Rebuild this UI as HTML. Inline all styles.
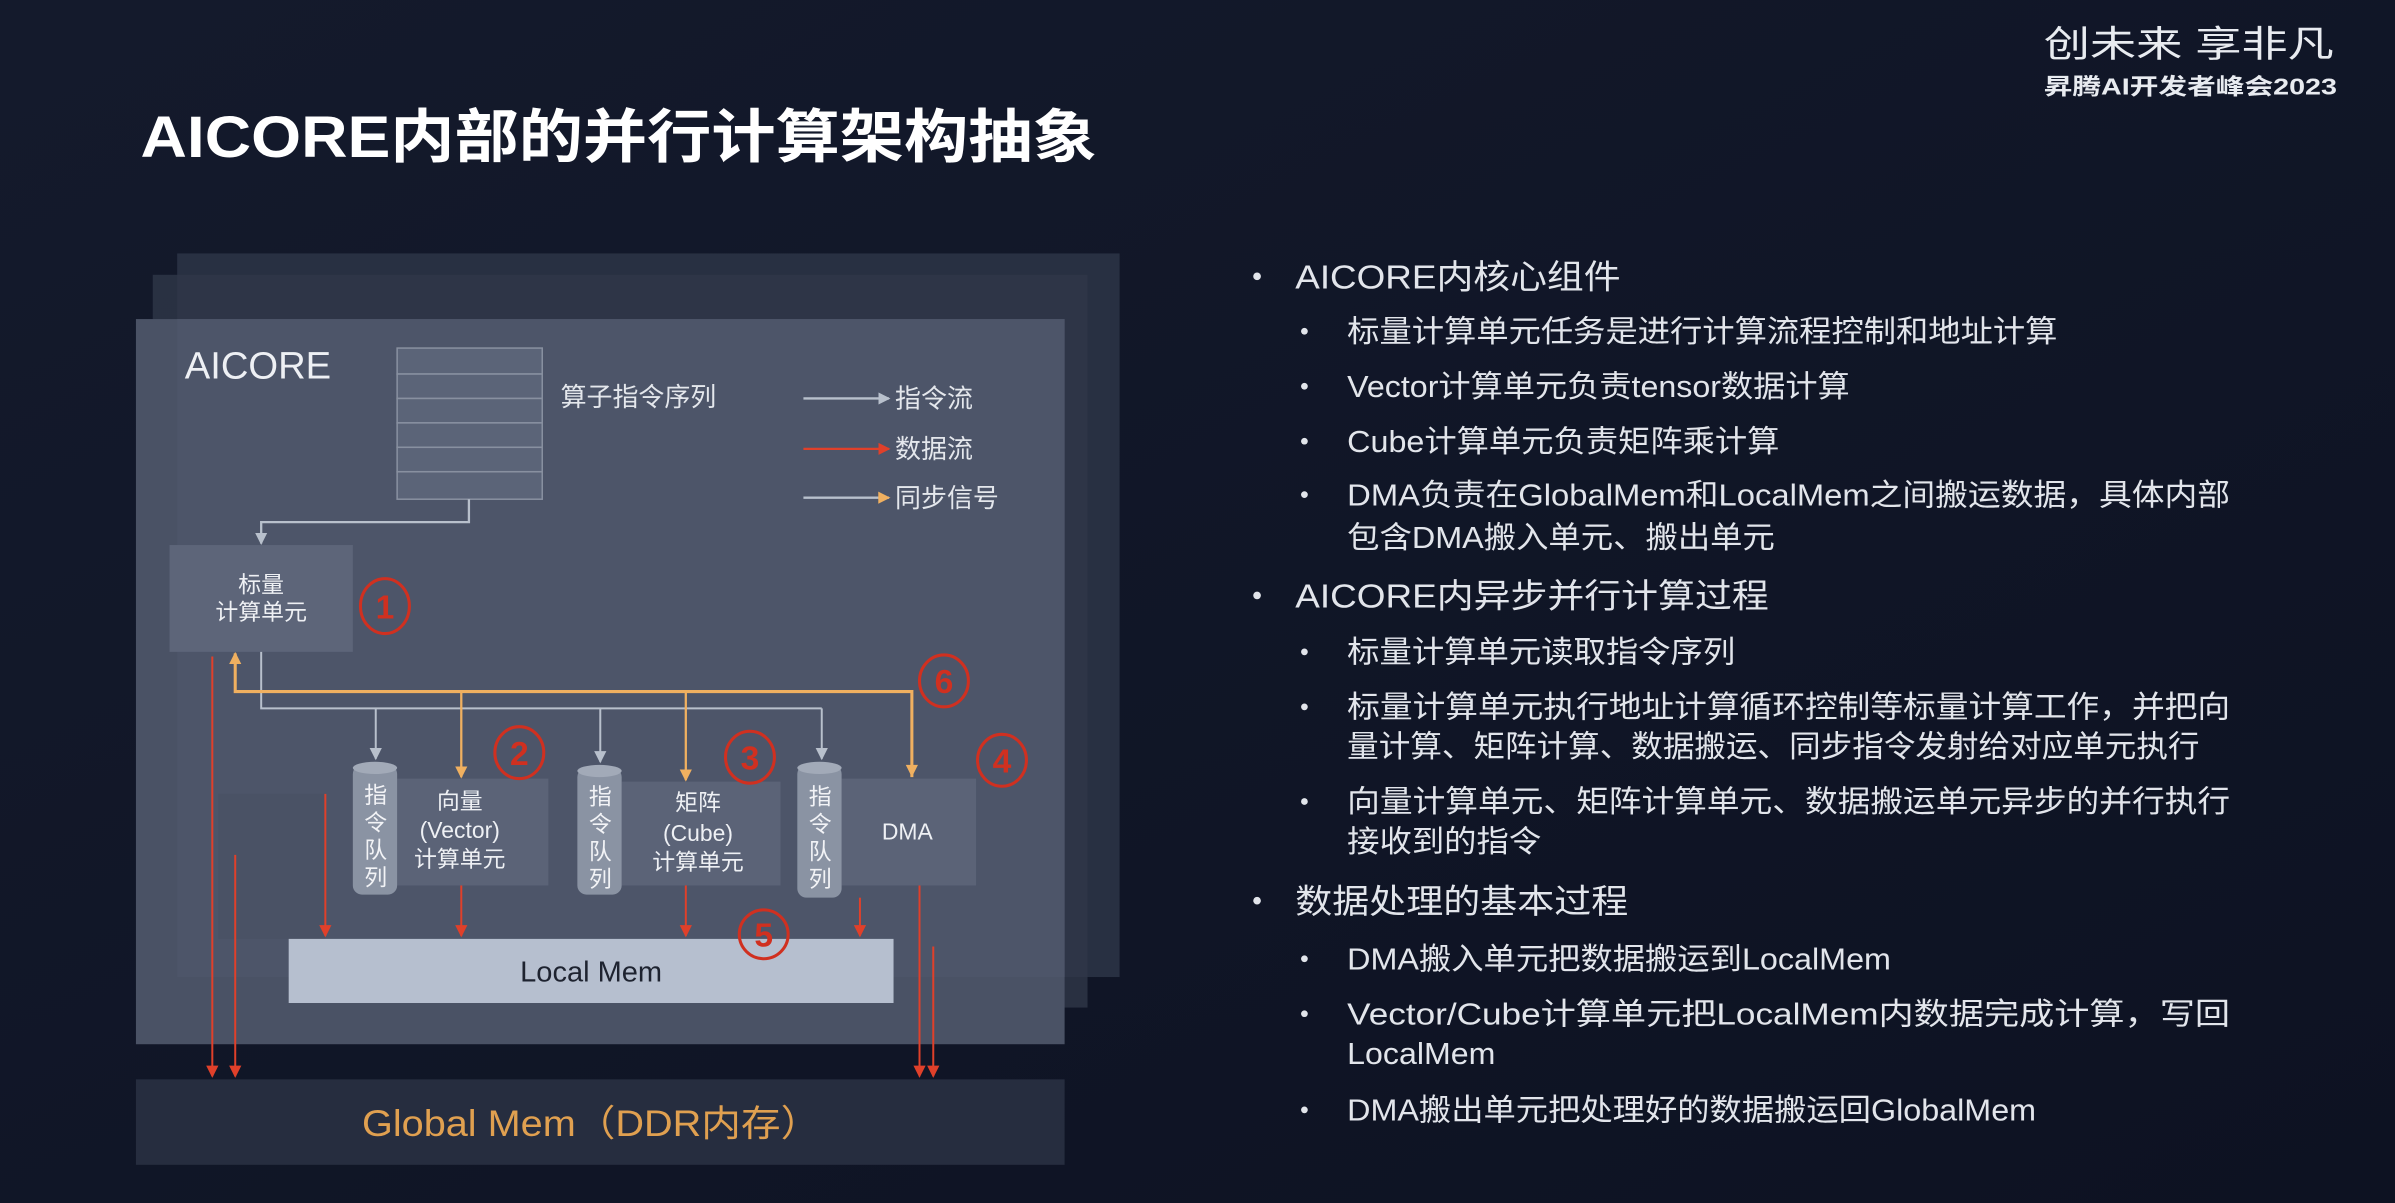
<!DOCTYPE html>
<html><head><meta charset="utf-8">
<style>
html,body{margin:0;padding:0;background:#0f1526;overflow:hidden;}
svg{display:block;}
text{font-family:"Liberation Sans","Noto Sans CJK SC",sans-serif;}
</style></head>
<body>
<svg width="2395" height="1203" viewBox="0 0 1568 788" preserveAspectRatio="none" xmlns="http://www.w3.org/2000/svg">
<defs>
<linearGradient id="bg" x1="0" y1="0" x2="1" y2="1">
<stop offset="0" stop-color="#141a2c"/><stop offset="1" stop-color="#0d1222"/>
</linearGradient>
<marker id="ag" markerWidth="8" markerHeight="8" refX="7" refY="4" orient="auto" markerUnits="userSpaceOnUse"><path d="M0,0 L8,4 L0,8 z" fill="#b8c0cc"/></marker>
<marker id="ar" markerWidth="8" markerHeight="8" refX="7" refY="4" orient="auto" markerUnits="userSpaceOnUse"><path d="M0,0 L8,4 L0,8 z" fill="#e0402a"/></marker>
<marker id="ao" markerWidth="8" markerHeight="8" refX="7" refY="4" orient="auto" markerUnits="userSpaceOnUse"><path d="M0,0 L8,4 L0,8 z" fill="#f0b060"/></marker>
</defs>
<rect width="1568" height="788" fill="url(#bg)"/>

<text x="92" y="103" font-size="38" font-weight="bold" fill="#ffffff" textLength="626" lengthAdjust="spacingAndGlyphs">AICORE内部的并行计算架构抽象</text>
<text x="1338" y="37" font-size="24" fill="#e8ebf0" textLength="190" lengthAdjust="spacingAndGlyphs">创未来 享非凡</text>
<text x="1338" y="62" font-size="15" font-weight="bold" fill="#e8ebf0" textLength="192" lengthAdjust="spacingAndGlyphs">昇腾AI开发者峰会2023</text>

<rect x="116" y="166" width="617" height="474" fill="#283042"/>
<rect x="100" y="180" width="612" height="480" fill="#2f3749" opacity="0.8"/>
<rect x="89" y="209" width="608" height="475" fill="#4a5265"/>
<rect x="116" y="209" width="581" height="431" fill="#4d5569"/>

<text x="121" y="248" font-size="25" fill="#eef0f4">AICORE</text>

<g fill="#5b6478" stroke="#8890a0" stroke-width="1">
<rect x="260" y="228" width="95" height="17"/><rect x="260" y="245" width="95" height="16"/>
<rect x="260" y="261" width="95" height="16"/><rect x="260" y="277" width="95" height="16"/>
<rect x="260" y="293" width="95" height="16"/><rect x="260" y="309" width="95" height="18"/>
</g>
<text x="367" y="266" font-size="17" fill="#e4e7ec">算子指令序列</text>

<line x1="526" y1="261" x2="582" y2="261" stroke="#b8c0cc" stroke-width="1.5" marker-end="url(#ag)"/>
<line x1="526" y1="294" x2="582" y2="294" stroke="#e0402a" stroke-width="1.5" marker-end="url(#ar)"/>
<line x1="526" y1="326" x2="582" y2="326" stroke="#b8c0cc" stroke-width="1.5"/>
<path d="M575,322 L583,326 L575,330 z" fill="#f0b060"/>
<text x="586" y="267" font-size="17" fill="#e4e7ec">指令流</text>
<text x="586" y="300" font-size="17" fill="#e4e7ec">数据流</text>
<text x="586" y="332" font-size="17" fill="#e4e7ec">同步信号</text>

<polyline points="307,327 307,342 171,342 171,356" fill="none" stroke="#b8c0cc" stroke-width="1.5" marker-end="url(#ag)"/>

<rect x="111" y="357" width="120" height="70" fill="#5d6579"/>
<text x="171" y="388" font-size="15" fill="#eef0f4" text-anchor="middle">标量</text>
<text x="171" y="406" font-size="15" fill="#eef0f4" text-anchor="middle">计算单元</text>

<rect x="143" y="520" width="70" height="95" fill="#4a5265"/>

<polyline points="171,427 171,464 538,464" fill="none" stroke="#b8c0cc" stroke-width="1.3"/>
<line x1="246" y1="464" x2="246" y2="497" stroke="#b8c0cc" stroke-width="1.3" marker-end="url(#ag)"/>
<line x1="393" y1="464" x2="393" y2="499" stroke="#b8c0cc" stroke-width="1.3" marker-end="url(#ag)"/>
<line x1="538" y1="464" x2="538" y2="497" stroke="#b8c0cc" stroke-width="1.3" marker-end="url(#ag)"/>

<polyline points="597,509 597,453 154,453 154,428" fill="none" stroke="#f0b060" stroke-width="2" marker-end="url(#ao)"/>
<line x1="302" y1="453" x2="302" y2="509" stroke="#f0b060" stroke-width="1.5" marker-end="url(#ao)"/>
<line x1="449" y1="453" x2="449" y2="511" stroke="#f0b060" stroke-width="1.5" marker-end="url(#ao)"/>
<path d="M593,501 L597,509 L601,501 z" fill="#f0b060"/>

<rect x="260" y="510" width="99" height="70" fill="#5b6377"/>
<rect x="407" y="512" width="104" height="68" fill="#5b6377"/>
<rect x="551" y="510" width="88" height="70" fill="#5b6377"/>
<text x="301" y="530" font-size="15" fill="#eef0f4" text-anchor="middle">向量</text>
<text x="301" y="549" font-size="15" fill="#eef0f4" text-anchor="middle">(Vector)</text>
<text x="301" y="568" font-size="15" fill="#eef0f4" text-anchor="middle">计算单元</text>
<text x="457" y="531" font-size="15" fill="#eef0f4" text-anchor="middle">矩阵</text>
<text x="457" y="551" font-size="15" fill="#eef0f4" text-anchor="middle">(Cube)</text>
<text x="457" y="570" font-size="15" fill="#eef0f4" text-anchor="middle">计算单元</text>
<text x="594" y="550" font-size="15" fill="#eef0f4" text-anchor="middle">DMA</text>

<g fill="#8a93a3">
<rect x="231" y="501" width="29" height="85" rx="6"/>
<rect x="378" y="503" width="29" height="83" rx="6"/>
<rect x="522" y="501" width="29" height="87" rx="6"/>
</g>
<g fill="#a2aab8">
<ellipse cx="245.5" cy="503" rx="14.5" ry="4"/>
<ellipse cx="392.5" cy="505" rx="14.5" ry="4"/>
<ellipse cx="536.5" cy="503" rx="14.5" ry="4"/>
</g>
<g font-size="15" fill="#f2f3f6" text-anchor="middle">
<text x="246" y="526">指</text><text x="246" y="544">令</text><text x="246" y="562">队</text><text x="246" y="580">列</text>
<text x="393" y="527">指</text><text x="393" y="545">令</text><text x="393" y="563">队</text><text x="393" y="581">列</text>
<text x="537" y="527">指</text><text x="537" y="545">令</text><text x="537" y="563">队</text><text x="537" y="581">列</text>
</g>

<g stroke="#e0402a" stroke-width="1.3" fill="none">
<line x1="213" y1="520" x2="213" y2="613" marker-end="url(#ar)"/>
<line x1="302" y1="580" x2="302" y2="613" marker-end="url(#ar)"/>
<line x1="449" y1="580" x2="449" y2="613" marker-end="url(#ar)"/>
<line x1="563" y1="588" x2="563" y2="613" marker-end="url(#ar)"/>
<line x1="139" y1="430" x2="139" y2="705" marker-end="url(#ar)"/>
<line x1="154" y1="560" x2="154" y2="705" marker-end="url(#ar)"/>
<line x1="602" y1="580" x2="602" y2="705" marker-end="url(#ar)"/>
<line x1="611" y1="620" x2="611" y2="705" marker-end="url(#ar)"/>
</g>

<rect x="189" y="615" width="396" height="42" fill="#b6bfcf"/>
<text x="387" y="643" font-size="19" fill="#1e2330" text-anchor="middle">Local Mem</text>

<g fill="none" stroke="#d03020" stroke-width="2">
<ellipse cx="252" cy="397" rx="16" ry="18"/>
<ellipse cx="618" cy="446" rx="16" ry="17"/>
<ellipse cx="340" cy="493" rx="16" ry="17"/>
<ellipse cx="491" cy="496" rx="16" ry="17"/>
<ellipse cx="656" cy="498" rx="16" ry="17"/>
<ellipse cx="500" cy="612" rx="16" ry="16"/>
</g>
<g font-size="22" font-weight="bold" fill="#d03020" text-anchor="middle">
<text x="252" y="405">1</text><text x="618" y="454">6</text><text x="340" y="501">2</text>
<text x="491" y="504">3</text><text x="656" y="506">4</text><text x="500" y="620">5</text>
</g>

<rect x="89" y="707" width="608" height="56" fill="#262d3f"/>
<text x="387" y="744" font-size="24" fill="#e0a050" text-anchor="middle" textLength="300" lengthAdjust="spacingAndGlyphs">Global Mem（DDR内存）</text>

<g fill="#e2e5eb">
<circle cx="823" cy="181" r="2.5"/><circle cx="823" cy="390" r="2.5"/><circle cx="823" cy="590" r="2.5"/>
<circle cx="854" cy="217" r="2.2"/><circle cx="854" cy="253" r="2.2"/><circle cx="854" cy="289" r="2.2"/><circle cx="854" cy="324" r="2.2"/>
<circle cx="854" cy="427" r="2.2"/><circle cx="854" cy="463" r="2.2"/><circle cx="854" cy="525" r="2.2"/>
<circle cx="854" cy="628" r="2.2"/><circle cx="854" cy="664" r="2.2"/><circle cx="854" cy="727" r="2.2"/>
<g font-size="22">
<text x="848" y="189" textLength="213" lengthAdjust="spacingAndGlyphs">AICORE内核心组件</text>
<text x="848" y="398" textLength="310" lengthAdjust="spacingAndGlyphs">AICORE内异步并行计算过程</text>
<text x="848" y="598" textLength="218" lengthAdjust="spacingAndGlyphs">数据处理的基本过程</text>
</g>
<g font-size="20">
<text x="882" y="224" textLength="465" lengthAdjust="spacingAndGlyphs">标量计算单元任务是进行计算流程控制和地址计算</text>
<text x="882" y="260" textLength="329" lengthAdjust="spacingAndGlyphs">Vector计算单元负责tensor数据计算</text>
<text x="882" y="296" textLength="283" lengthAdjust="spacingAndGlyphs">Cube计算单元负责矩阵乘计算</text>
<text x="882" y="331" textLength="578" lengthAdjust="spacingAndGlyphs">DMA负责在GlobalMem和LocalMem之间搬运数据，具体内部</text>
<text x="882" y="359" textLength="280" lengthAdjust="spacingAndGlyphs">包含DMA搬入单元、搬出单元</text>
<text x="882" y="434" textLength="254" lengthAdjust="spacingAndGlyphs">标量计算单元读取指令序列</text>
<text x="882" y="470" textLength="578" lengthAdjust="spacingAndGlyphs">标量计算单元执行地址计算循环控制等标量计算工作，并把向</text>
<text x="882" y="496" textLength="558" lengthAdjust="spacingAndGlyphs">量计算、矩阵计算、数据搬运、同步指令发射给对应单元执行</text>
<text x="882" y="532" textLength="578" lengthAdjust="spacingAndGlyphs">向量计算单元、矩阵计算单元、数据搬运单元异步的并行执行</text>
<text x="882" y="558" textLength="127" lengthAdjust="spacingAndGlyphs">接收到的指令</text>
<text x="882" y="635" textLength="356" lengthAdjust="spacingAndGlyphs">DMA搬入单元把数据搬运到LocalMem</text>
<text x="882" y="671" textLength="578" lengthAdjust="spacingAndGlyphs">Vector/Cube计算单元把LocalMem内数据完成计算，写回</text>
<text x="882" y="697" textLength="97" lengthAdjust="spacingAndGlyphs">LocalMem</text>
<text x="882" y="734" textLength="451" lengthAdjust="spacingAndGlyphs">DMA搬出单元把处理好的数据搬运回GlobalMem</text>
</g>
</g>
</svg>
</body></html>
